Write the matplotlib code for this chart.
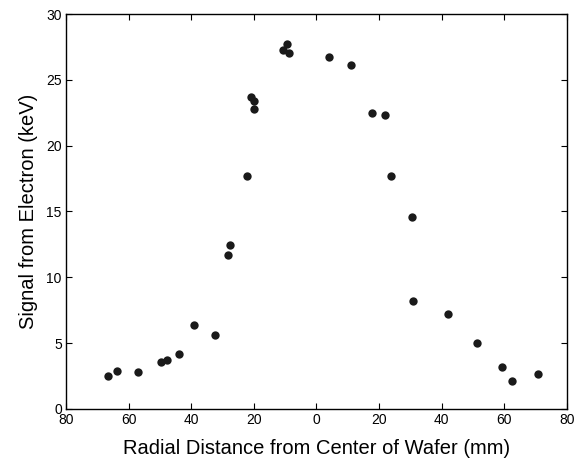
import numpy as np
import matplotlib
matplotlib.use('Agg')
import matplotlib.pyplot as plt
from matplotlib.ticker import FuncFormatter

plt.rcParams['font.family'] = ['Liberation Sans', 'DejaVu Sans']

# Signed radial position (mm, negative = left side of wafer) and signal (keV)
radius = [-66.5, -63.7, -56.9, -49.6, -47.8, -44.0, -39.2, -32.5,
          -28.1, -27.7, -22.1, -20.9, -19.8, -19.8, -10.7, -9.5, -8.9,
          4.1, 11.1, 17.7, 21.9, 23.8, 30.5, 30.9, 42.1, 51.4, 59.4, 62.5, 70.8]
signal = [2.53, 2.89, 2.78, 3.54, 3.72, 4.15, 6.40, 5.62,
          11.67, 12.45, 17.71, 23.71, 23.41, 22.80, 27.26, 27.74, 27.08,
          26.73, 26.12, 22.48, 22.30, 17.71, 14.56, 8.20, 7.19, 5.01, 3.17, 2.15, 2.68]

fig = plt.figure(figsize=(5.79, 4.71), dpi=100)
ax = fig.add_axes([0.114, 0.132, 0.865, 0.838])

ax.plot(radius, signal, 'o', color='#1a1a1a', markersize=6, markeredgewidth=0)

ax.set_xlim(-80, 80)
ax.set_ylim(0, 30)
ax.set_xticks(np.arange(-80, 81, 20))
ax.set_yticks(np.arange(0, 31, 5))
ax.xaxis.set_major_formatter(FuncFormatter(lambda v, p: f'{abs(v):g}'))
ax.tick_params(direction='in', top=True, right=True, labelsize=10, length=4, pad=3)
for s in ax.spines.values():
    s.set_linewidth(1.0)

ax.set_xlabel('Radial Distance from Center of Wafer (mm)', fontsize=14.5, labelpad=9)
ax.set_ylabel('Signal from Electron (keV)', fontsize=14.5, labelpad=6)

fig.savefig('out.png', dpi=100)
